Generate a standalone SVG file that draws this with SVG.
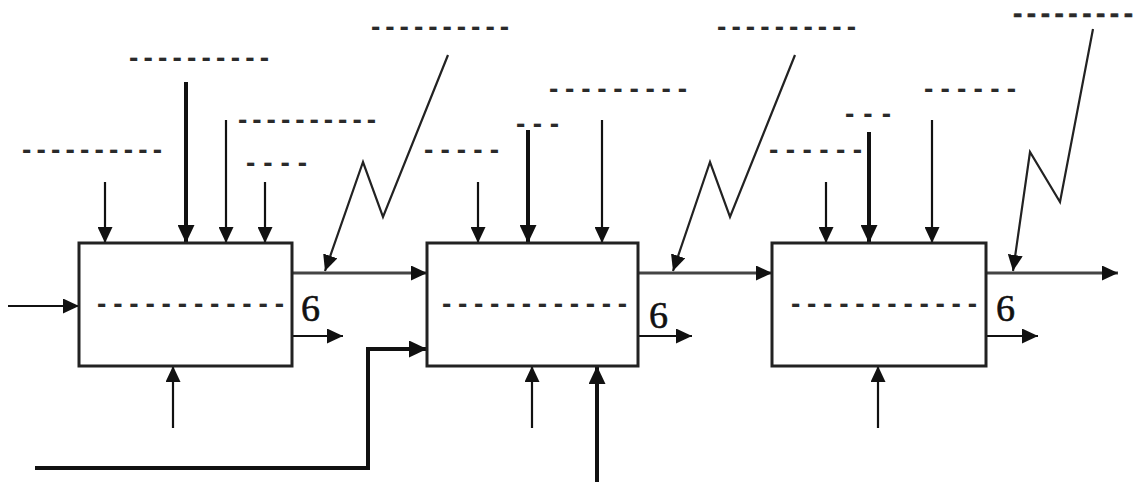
<svg xmlns="http://www.w3.org/2000/svg" width="1141" height="486" viewBox="0 0 1141 486">
<style>
.box{fill:#fff;stroke:#222;stroke-width:3}
.dash{font-family:"Liberation Sans",Arial,sans-serif;font-weight:bold;font-size:28px;fill:#2a2a2a}
.six{font-family:"Liberation Serif","Times New Roman",serif;font-size:38px;fill:#111;stroke:#111;stroke-width:0.6}
.thin{fill:none;stroke:#111;stroke-width:2.2}
.thick{fill:none;stroke:#111;stroke-width:4}
.flow{fill:none;stroke:#444;stroke-width:3}
.zig{fill:none;stroke:#222;stroke-width:2.2;stroke-linejoin:miter}
</style>
<defs>
<marker id="ah" markerUnits="userSpaceOnUse" markerWidth="17" markerHeight="15" refX="16" refY="7.5" orient="auto">
<path d="M0,0 L16,7.5 L0,15 Z" fill="#111"/>
</marker>
<marker id="ahb" markerUnits="userSpaceOnUse" markerWidth="19" markerHeight="17" refX="18" refY="8.5" orient="auto">
<path d="M0,0 L18,8.5 L0,17 Z" fill="#111"/>
</marker>
</defs>
<rect width="1141" height="486" fill="#fff"/>

<g id="connectors">
<path class="thin" d="M8,306 H79" marker-end="url(#ah)"/>
<path class="thin" d="M105,182 V243" marker-end="url(#ah)"/>
<path class="thick" d="M186,82 V243" marker-end="url(#ahb)"/>
<path class="thin" d="M226,120 V243" stroke="#555" marker-end="url(#ah)"/>
<path class="thin" d="M265,182 V243" marker-end="url(#ah)"/>
<path class="thin" d="M173,428 V366" marker-end="url(#ah)"/>
<path class="flow" d="M292,273 H427" marker-end="url(#ah)"/>
<path class="thin" d="M292,336 H343" marker-end="url(#ah)"/>
<path class="zig" d="M448,55 L383,217 L363,162 L325,271" marker-end="url(#ah)"/>
<path class="thick" d="M35,468 H368 V349 H427" marker-end="url(#ahb)"/>
<path class="thin" d="M478,182 V243" marker-end="url(#ah)"/>
<path class="thick" d="M528,130 V243" marker-end="url(#ahb)"/>
<path class="thin" d="M602,120 V243" marker-end="url(#ah)"/>
<path class="thin" d="M532,428 V366" marker-end="url(#ah)"/>
<path class="thick" d="M597,482 V366" marker-end="url(#ahb)"/>
<path class="flow" d="M638,273 H772" marker-end="url(#ah)"/>
<path class="thin" d="M638,336 H692" marker-end="url(#ah)"/>
<path class="zig" d="M795,55 L730,217 L710,162 L673,271" marker-end="url(#ah)"/>
<path class="thin" d="M826,182 V243" marker-end="url(#ah)"/>
<path class="thick" d="M869,132 V243" marker-end="url(#ahb)"/>
<path class="thin" d="M932,120 V243" stroke-width="2.6" marker-end="url(#ah)"/>
<path class="thin" d="M878,428 V366" marker-end="url(#ah)"/>
<path class="flow" d="M986,273 H1118" marker-end="url(#ah)"/>
<path class="thin" d="M986,336 H1038" marker-end="url(#ah)"/>
<path class="zig" d="M1093,29 L1060,202 L1030,152 L1013,271" marker-end="url(#ah)"/>
</g>

<g id="labels">
<text class="dash" x="22" y="159" textLength="140" lengthAdjust="spacing">----------</text>
<text class="dash" x="129" y="67" textLength="140" lengthAdjust="spacing">----------</text>
<text class="dash" x="238" y="129" textLength="138" lengthAdjust="spacing">----------</text>
<text class="dash" x="246" y="172" textLength="61" lengthAdjust="spacing">----</text>
<text class="dash" x="371" y="36" textLength="138" lengthAdjust="spacing">----------</text>
<text class="dash" x="424" y="159" textLength="75" lengthAdjust="spacing">-----</text>
<text class="dash" x="516" y="133" textLength="43" lengthAdjust="spacing">---</text>
<text class="dash" x="549" y="98" textLength="138" lengthAdjust="spacing">---------</text>
<text class="dash" x="717" y="36" textLength="139" lengthAdjust="spacing">----------</text>
<text class="dash" x="769" y="159" textLength="93" lengthAdjust="spacing">------</text>
<text class="dash" x="845" y="123" textLength="46" lengthAdjust="spacing">---</text>
<text class="dash" x="924" y="98" textLength="92" lengthAdjust="spacing">------</text>
<text class="dash" x="1013" y="23" font-size="22" stroke="#2a2a2a" stroke-width="0.5" textLength="120" lengthAdjust="spacing">---------</text>
</g>

<g id="box1">
<rect class="box" x="79" y="243" width="213" height="123"/>
<text class="dash" x="97" y="313" textLength="187" lengthAdjust="spacing">------------</text>
<text class="six" x="301" y="321">6</text>
</g>

<g id="box2">
<rect class="box" x="427" y="243" width="211" height="123"/>
<text class="dash" x="442" y="313" textLength="185" lengthAdjust="spacing">------------</text>
<text class="six" x="649" y="328">6</text>
</g>

<g id="box3">
<rect class="box" x="772" y="243" width="214" height="123"/>
<text class="dash" x="791" y="313" textLength="186" lengthAdjust="spacing">------------</text>
<text class="six" x="996" y="321">6</text>
</g>
</svg>
